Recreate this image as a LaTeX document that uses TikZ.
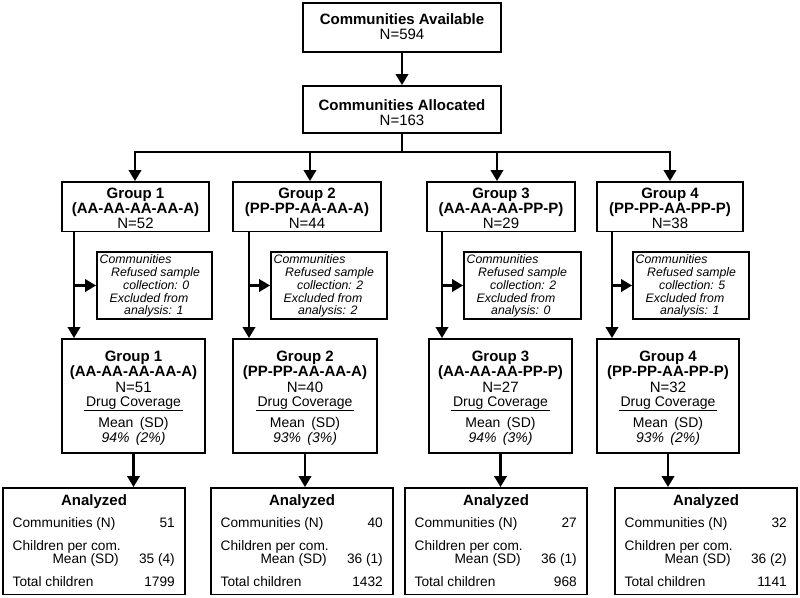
\documentclass[tikz,border=0pt]{standalone}
\usepackage{fontspec}
\setmainfont{Liberation Sans}
\usetikzlibrary{arrows.meta,calc}
\begin{document}
\begin{tikzpicture}[x=1pt,y=-1pt,
  box/.style={draw,line width=1.9pt,inner sep=0pt},
  conn/.style={line width=2.2pt},
  arr/.style={conn,-{Triangle[length=11pt,width=12.5pt]}},
  big/.style={font=\fontsize{15}{15}\selectfont,inner sep=0pt,anchor=base},
  bigb/.style={font=\fontsize{15}{15}\selectfont\bfseries,inner sep=0pt,anchor=base},
  mid/.style={font=\fontsize{14}{14}\selectfont,inner sep=0pt,anchor=base},
  exc/.style={font=\fontsize{12.3}{12.5}\selectfont\itshape,inner sep=0pt,anchor=base west},
  sm/.style={font=\fontsize{13.7}{14}\selectfont,inner sep=0pt},
  uline/.style={line width=1pt}]
\useasboundingbox (0,0) rectangle (800,597);

% top boxes
\node[box,minimum width=198pt,minimum height=49pt] (avail) at (402,27.5) {};
\node[bigb] (availt) at (402,24) {Communities Available};
\node[big] (availn) at (402,39) {N=594};
\node[box,minimum width=198pt,minimum height=47pt] (alloc) at (402,109.5) {};
\node[bigb] (alloct) at (402,110) {Communities Allocated};
\node[big] (allocn) at (402,125) {N=163};
\draw[arr] (avail) -- (alloc);

\foreach \i/\gcx/\gw/\bx/\vx/\ecx/\ew/\scx/\sw/\L/\code/\na/\rf/\ex/\nb/\cov/\sd/\ch/\tot in {
1/135.5/147/135/74/154.5/115/133.5/143/3/(AA-AA-AA-AA-A)/52/0/1/51/94/2/35 (4)/1799,
2/307/148/310/249/329/116/305/144/211/(PP-PP-AA-AA-A)/44/2/2/40/93/3/36 (1)/1432,
3/501/148/497/442/522.5/117/500.5/143/405/(AA-AA-AA-PP-P)/29/2/0/27/94/3/36 (1)/968,
4/670/146/670/612/691/116/668/142/615/(PP-PP-AA-PP-P)/38/5/1/32/93/2/36 (2)/1141}{
  % group box
  \node[box,minimum width=\gw pt,minimum height=49.5pt] (g\i) at (\gcx,206.75) {};
  \node[bigb] (g\i a) at (\gcx,198) {Group \i};
  \node[bigb] (g\i b) at (\gcx,213) {\code};
  \node[big] (g\i c) at (\gcx,228) {N=\na};
  \coordinate (b\i) at (\bx,152);
  \draw[arr] (b\i) -- (b\i |- g\i.north);
  % exclusion box
  \node[box,minimum width=\ew pt,minimum height=67pt] (e\i) at (\ecx,285.5) {};
  \coordinate (x\i) at ({\ecx-\ew/2+2.5},0);
  \node[exc] (e\i a) at (x\i |- 0,263) {Communities};
  \node[exc] (e\i b) at ($(x\i |- 0,276)+(11.5,0)$) {Refused sample};
  \node[exc] (e\i c) at ($(x\i |- 0,289)+(23.5,0)$) {collection: \rf};
  \node[exc] (e\i d) at ($(x\i |- 0,302)+(10,0)$) {Excluded from};
  \node[exc] (e\i e) at ($(x\i |- 0,314)+(24.5,0)$) {analysis: \ex};
  % second box
  \node[box,minimum width=\sw pt,minimum height=114pt] (s\i) at (\scx,396) {};
  \node[bigb] (s\i a) at (\scx,361) {Group \i};
  \node[bigb] (s\i b) at (\scx,376) {\code};
  \node[big] (s\i c) at (\scx,392) {N=\nb};
  \node[mid] (s\i d) at (\scx,406) {Drug Coverage};
  \draw[uline] ($(s\i d.base west)+(-1.5,4)$) -- ($(s\i d.base east)+(1.5,4)$);
  \node[mid] (s\i e) at (\scx,427) {Mean\hspace{0.45em}(SD)};
  \node[mid,font=\fontsize{14}{14}\selectfont\itshape] (s\i f) at (\scx,442) {\cov\%\hspace{0.45em}(\sd\%)};
  % vertical line with exclusion branch
  \coordinate (v\i) at (\vx,0);
  \draw[arr] (g\i.south -| v\i) -- (s\i.north -| v\i);
  \draw[arr] (e\i.west -| v\i) -- (e\i.west);
  % analyzed box
  \node[box,minimum width=182pt,minimum height=106.5pt] (a\i) at ({\L+91},541.25) {};
  \node[bigb] (a\i t) at ({\L+91},505) {Analyzed};
  \node[sm,anchor=base west] (a\i c) at ({\L+9.5},527) {Communities (N)};
  \node[sm,anchor=base east] (a\i cn) at ({\L+172},527) {\nb};
  \node[sm,anchor=base west] (a\i h) at ({\L+9.5},550) {Children per com.};
  \node[sm,anchor=base east] (a\i m) at ({\L+116},563) {Mean (SD)};
  \node[sm,anchor=base east] (a\i mn) at ({\L+172},563) {\ch};
  \node[sm,anchor=base west] (a\i t2) at ({\L+9.5},586) {Total children};
  \node[sm,anchor=base east] (a\i tn) at ({\L+172},586) {\tot};
  \draw[arr] (s\i.south) -- (s\i.south |- a\i.north);
}
\draw[conn] (alloc.south) -- (alloc.south |- b1);
\draw[conn,line cap=rect] (b1) -- (b4);
\end{tikzpicture}
\end{document}
